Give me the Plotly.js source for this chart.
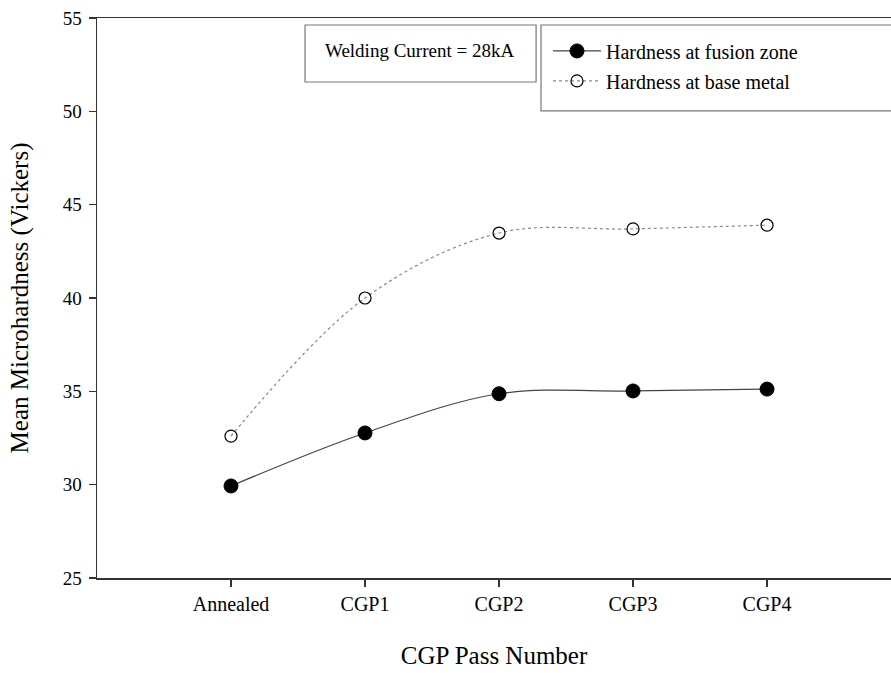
<!DOCTYPE html>
<html>
<head>
<meta charset="utf-8">
<script src="https://cdn.plot.ly/plotly-3.0.1.min.js"></script>
<style>html,body{margin:0;padding:0;background:#fff;}#chart{width:891px;height:673px;}</style>
</head>
<body>
<div id="chart"></div>
<script>
const categories = ["Annealed", "CGP1", "CGP2", "CGP3", "CGP4"];
const fusionZone = [29.93, 32.77, 34.87, 35.02, 35.12];
const baseMetal = [32.6, 40.0, 43.48, 43.7, 43.9];
const yTicks = [25, 30, 35, 40, 45, 50, 55];
const seriesNames = ["Hardness at fusion zone", "Hardness at base metal"];
const noteText = "Welding Current = 28kA";

const xIdx = categories.map((c, i) => i);
const FONT = "Liberation Serif, Times New Roman, serif";

const traces = [
  {
    x: xIdx, y: fusionZone, name: seriesNames[0], legendgroup: "g1", type: "scatter", mode: "lines+markers",
    line: {color: "#444", width: 1.2, shape: "spline"},
    marker: {symbol: "circle", size: 14, color: "#000", line: {color: "#000", width: 1}}
  },
  {
    x: xIdx, y: baseMetal, name: seriesNames[1], legendgroup: "g2", type: "scatter", mode: "lines+markers",
    line: {color: "#888", width: 1.2, shape: "spline", dash: "dot"},
    marker: {symbol: "circle-open", size: 12, color: "#000", line: {color: "#000", width: 1.2}}
  }
];

const layout = {
  width: 891, height: 673,
  margin: {l: 97, r: 0, t: 18, b: 95},
  paper_bgcolor: "#fff", plot_bgcolor: "#fff",
  font: {family: FONT, color: "#000", size: 18},
  showlegend: true,
  legend: {
    x: 0.568, y: 0.976, xanchor: "left", yanchor: "top",
    bgcolor: "rgba(0,0,0,0)", borderwidth: 0,
    font: {family: FONT, size: 20, color: "#000"},
    itemwidth: 48, tracegroupgap: 1, traceorder: "grouped"
  },
  xaxis: {
    range: [-1, 4.925], tickmode: "array", tickvals: xIdx, ticktext: categories,
    showgrid: false, zeroline: false, showline: true, linecolor: "#333", linewidth: 1.5,
    mirror: true, ticks: "outside", ticklen: 7, tickcolor: "#333", tickwidth: 1.2,
    tickfont: {family: FONT, size: 20, color: "#000"},
    title: {text: "CGP Pass Number", font: {family: FONT, size: 25, color: "#000"}, standoff: 33}
  },
  yaxis: {
    range: [25, 55], tickmode: "array", tickvals: yTicks,
    showgrid: false, zeroline: false, showline: true, linecolor: "#333", linewidth: 1.5,
    ticks: "outside", ticklen: 7, tickcolor: "#333", tickwidth: 1.2, ticklabelstandoff: 3,
    tickfont: {family: FONT, size: 19, color: "#000"},
    title: {text: "Mean Microhardness (Vickers)", font: {family: FONT, size: 25, color: "#000"}, standoff: 27}
  },
  shapes: [
    {type: "rect", xref: "paper", yref: "paper", x0: 0.262, x1: 0.553, y0: 0.8857, y1: 0.9875,
     line: {color: "#777", width: 1.2}, fillcolor: "#fff", layer: "above"},
    {type: "rect", xref: "paper", yref: "paper", x0: 0.5592, x1: 1.01, y0: 0.834, y1: 0.9875,
     line: {color: "#777", width: 1.2}, fillcolor: "#fff", layer: "above"}
  ],
  annotations: [
    {text: noteText, xref: "paper", yref: "paper", x: 0.4068, y: 0.942, showarrow: false,
     xanchor: "center", yanchor: "middle", font: {family: FONT, size: 19, color: "#000"}}
  ]
};

Plotly.newPlot("chart", traces, layout, {displayModeBar: false, staticPlot: true});
</script>
</body>
</html>
